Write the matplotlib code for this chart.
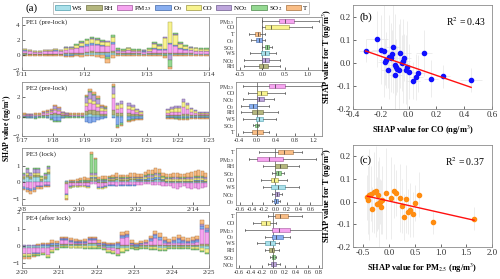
import numpy as np
import matplotlib
matplotlib.use("Agg")
import matplotlib.pyplot as plt
from matplotlib.patches import Patch

plt.rcParams['font.family'] = ['Liberation Serif', 'DejaVu Serif']
plt.rcParams['mathtext.fontset'] = 'stix'

# ---------------- data ----------------
features = ["WS", "RH", "PM25", "O3", "CO", "NO2", "SO2", "T"]
feat_labels = {"WS": "WS", "RH": "RH", "PM25": "PM$_{2.5}$", "O3": "O$_3$",
               "CO": "CO", "NO2": "NO$_2$", "SO2": "SO$_2$", "T": "T"}
feat_colors = {"WS": "#a9e0ea", "RH": "#b4b67e", "PM25": "#f6a4f0", "O3": "#88aef0",
               "CO": "#f8f38e", "NO2": "#bda5dc", "SO2": "#95d992", "T": "#f9bd85"}
feat_edges = {"WS": "#4f9fae", "RH": "#6e6f40", "PM25": "#a2569d", "O3": "#3f66a8",
              "CO": "#9c9640", "NO2": "#6d5a8e", "SO2": "#4d8a4a", "T": "#a8703c"}

# PE1 (pre-lock), 2-hourly from 1/11
pe1 = {
    "WS":   [0.1, 0.05, 0.05, 0.05, 0.05, 0.05, 0.05, 0.05, 0.1, 0.1, 0.1, 0.15,
             0.2, 0.25, 0.2, 0.2, 0.2, 0.2, 0.1, 0.1, 0.1, 0.1, 0.1, 0.1,
             0.1, 0.1, 0.1, 0.1, 0.1, 0.1, 0.1, 0.1, 0.1, 0.1, 0.1, 0.1],
    "RH":   [0.1, 0.1, 0.05, 0.05, 0.1, 0.1, 0.1, 0.1, 0.1, 0.1, 0.15, 0.15,
             0.2, 0.2, 0.2, 0.2, 0.2, 0.3, 0.1, 0.1, 0.1, 0.1, 0.1, 0.05,
             0.1, 0.1, 0.1, 0.1, 0.2, 0.2, 0.1, 0.1, 0.1, 0.05, 0.05, 0.05],
    "PM25": [0.35, 0.3, 0.25, 0.25, 0.3, 0.35, 0.4, 0.35, 0.5, 0.55, 0.6, 0.8,
             0.8, 0.9, 0.9, 0.8, 0.8, 1.0, 0.35, 0.3, 0.4, 0.3, 0.3, 0.25,
             0.3, 0.6, 0.5, 0.5, 1.2, 0.9, 0.6, 0.5, 0.4, 0.35, 0.3, 0.3],
    "O3":   [0.05, 0.05, 0.05, 0.05, 0.05, 0.05, 0.05, 0.05, -0.1, -0.1, 0.1, 0.1,
             0.2, 0.2, 0.2, 0.15, -0.3, 0.2, 0.05, 0.05, 0.1, 0.05, 0.05, 0.05,
             0.05, 0.1, 0.1, 0.1, 0.1, 0.1, 0.1, 0.05, 0.05, 0.05, 0.05, 0.05],
    "CO":   [0.15, 0.1, 0.1, 0.1, 0.1, 0.1, 0.15, 0.1, 0.2, 0.2, 0.3, 0.4,
             0.5, 0.6, 0.5, 0.4, 0.5, 0.6, 0.15, 0.1, 0.15, 0.1, 0.1, 0.1,
             0.2, 0.6, 0.4, 1.4, 2.8, 1.3, 0.6, 0.4, 0.3, 0.3, 0.25, 0.25],
    "NO2":  [0.05, 0.05, 0.05, 0.05, 0.05, 0.05, 0.05, 0.05, 0.1, 0.1, 0.1, 0.1,
             0.1, 0.1, 0.1, 0.1, 0.1, 0.1, 0.05, 0.05, 0.05, 0.05, 0.05, 0.05,
             0.05, 0.1, 0.1, 0.2, -0.7, 0.2, 0.1, 0.05, 0.05, 0.05, 0.05, 0.05],
    "SO2":  [-0.05, -0.05, -0.05, -0.05, -0.05, -0.05, -0.05, -0.05, 0.05, 0.05, 0.05, 0.1,
             0.1, 0.1, 0.1, 0.1, -0.2, 0.2, 0.05, 0.05, 0.05, 0.05, 0.05, 0.05,
             0.05, 0.1, 0.1, -0.2, -0.9, 0.1, 0.1, 0.05, 0.05, 0.05, 0.05, 0.05],
    "T":    [-0.15, -0.1, -0.1, -0.1, -0.1, -0.15, -0.15, -0.15, -0.2, -0.2, -0.2, -0.25,
             -0.2, -0.2, -0.3, -0.4, -0.6, -0.4, -0.15, -0.15, -0.15, -0.1, -0.1, -0.1,
             -0.1, -0.15, -0.2, -0.2, -0.3, -0.2, -0.15, -0.1, -0.1, -0.1, -0.1, -0.1],
}
pe1_missing = []

# PE2 (pre-lock), 3-hourly from 1/17
pe2 = {
    "WS":   [.05, .05, .05, .05, .05, .1, .1, .15, .2, .15, .05, .05, .05, .05, .05, .05,
             .2, .25, .2, .15, .1, .1, 0, .2, .1, .1, 0, .1, .1, .1, .05, 0,
             0, 0, 0, 0, 0, .05, .05, .05, .05, .1, .1, .05, .05, .05, .05, .05],
    "RH":   [.05, .05, .05, .05, .05, .1, .1, .1, .15, .15, .1, .1, .05, .05, .05, .05,
             .4, .5, .5, .4, .2, .2, 0, .5, .3, .3, 0, .3, .2, .15, .1, 0,
             0, 0, 0, 0, 0, .1, .1, .1, .1, .2, .2, .15, .1, .1, .1, .1],
    "PM25": [.1, .05, .05, .1, .1, .15, .2, .25, .35, .3, .15, .1, .1, .1, .1, .1,
             .5, .7, .6, .5, .3, .25, 0, 1.2, .4, .5, 0, .4, .4, .25, .15, 0,
             0, 0, 0, 0, 0, .2, .3, .3, .3, .7, .5, .3, .2, .15, .15, .15],
    "O3":   [-.05, -.1, -.1, -.15, -.05, -.05, -.1, -.25, -.4, -.4, -.1, -.05, -.05, -.05, -.05, -.05,
             -.5, -.6, -.5, -.35, -.2, -.1, 0, -.15, -.9, -.7, 0, -.3, -.25, -.2, -.2, 0,
             0, 0, 0, 0, 0, -.1, -.1, -.15, -.15, -.15, -.15, -.1, -.1, -.1, -.1, -.1],
    "CO":   [.05, .05, .05, .05, .05, .05, .1, .1, .15, .1, .05, .05, .05, .05, .05, .05,
             .3, .4, .3, .3, .3, .25, 0, .5, .4, .4, 0, .3, .3, .2, .15, 0,
             0, 0, 0, 0, 0, .3, .35, .5, .5, .5, .4, .3, .2, .1, .1, .1],
    "NO2":  [.05, .05, .05, .05, .05, .1, .1, .15, .3, .25, .1, .05, .05, .05, .05, .05,
             .6, .75, .7, .5, .2, .15, 0, .7, .25, .3, 0, .3, .25, .15, .1, 0,
             0, 0, 0, 0, 0, .15, .2, .2, .2, .3, .25, .15, .1, .05, .05, .05],
    "SO2":  [-.05, -.05, -.05, -.05, -.05, -.05, -.05, -.05, -.1, -.1, -.05, -.05, -.05, -.05, -.05, -.05,
             .1, .1, .1, .1, .05, .05, 0, .1, -.2, -.2, 0, -.1, -.1, -.05, -.05, 0,
             0, 0, 0, 0, 0, -.05, -.05, -.05, -.05, -.05, -.05, -.05, -.05, -.05, -.05, -.05],
    "T":    [.05, .05, .05, .05, .05, .05, .05, .05, .05, .05, .05, .05, .05, .05, .05, .05,
             .2, .2, .2, .15, .1, .1, 0, .2, -.1, -.1, 0, -.1, -.05, -.05, -.05, 0,
             0, 0, 0, 0, 0, -.05, -.05, -.05, -.1, -.1, -.1, -.05, -.05, -.05, -.05, -.05],
}
pe2_missing = [22, 26, 31, 32, 33, 34, 35, 36]

# PE3 (lock), 3-hourly from 2/8
pe3 = {
    "WS":   [.2, .3, .2, .3, .3, .1, .2, .5, 0, 0, 0, 0, .05, .05, .05, .05,
             .05, .05, .05, .05, .05, .1, .1, .1, .1, .1, .15, .1, .1, .1, .15, .15,
             .1, .1, .1, .1, .1, .15, .15, .1, -.05, -.05, -.05, -.05, -.05, -.05, -.05, -.05,
             -.05, -.05, -.05, -.05],
    "RH":   [.1, .15, .1, .15, .15, .1, .1, .15, 0, 0, 0, 0, -.1, -.05, -.05, -.05,
             -.05, -.05, -.05, .2, .2, -.05, -.05, -.05, .05, .05, .05, .05, .05, .05, .05, .05,
             .05, .05, .05, .05, .05, .05, .05, .05, .05, .05, .05, .05, .05, .05, .05, .05,
             .05, .05, .05, .05],
    "PM25": [-.3, -.35, -.4, -.35, -.2, -.2, -.15, -.15, 0, 0, 0, 0, -.6, -.2, -.15, -.15,
             -.15, -.15, -.2, -.1, -.1, -.25, -.25, -.2, -.15, -.15, -.2, -.15, -.15, -.15, -.15, -.15,
             -.15, -.15, -.1, -.1, -.15, -.15, -.15, -.2, -.15, -.2, -.3, -.35, -.25, -.15, -.3, -.35,
             -.3, -.35, -.3, -.25],
    "O3":   [-.1, -.1, -.15, -.1, -.1, -.1, -.05, -.05, 0, 0, 0, 0, -.1, -.03, -.03, -.03,
             -.05, -.05, -.05, .1, .1, -.05, -.05, -.05, -.05, -.05, -.05, -.05, -.05, -.05, -.05, -.05,
             .05, .05, .05, .1, .1, .1, .1, .05, .05, .05, .05, .05, .05, .05, .05, .05,
             .1, .1, .1, .05],
    "CO":   [.1, .15, .1, .15, .15, .1, .1, .15, 0, 0, 0, 0, -.2, -.05, -.05, -.05,
             -.05, -.05, -.05, .1, .1, -.05, -.05, -.05, .05, .05, .05, .05, .05, .05, .05, .05,
             .05, .05, .1, .1, .1, .15, .1, .1, .1, .1, .1, .1, .1, .1, .1, .1,
             .1, .1, .1, .1],
    "NO2":  [.1, .2, .15, .2, .2, .05, .1, .15, 0, 0, 0, 0, .05, .05, .05, .05,
             .05, .05, .05, .1, .1, .05, .05, .05, .05, .05, .05, .05, .05, .05, .05, .05,
             .05, .05, .1, .1, .1, .1, .1, .05, .05, .05, .1, .1, .05, .05, .1, .1,
             .1, .1, .1, .1],
    "SO2":  [.05, .05, .05, .05, .05, .05, .05, .05, 0, 0, 0, 0, -.05, -.03, -.03, -.03,
             .05, .05, .05, 1.2, .9, .05, .05, .05, .05, .05, .05, .05, .05, .05, .05, .05,
             .05, .05, .05, .05, .05, .05, .05, .05, .05, .05, .05, .05, .05, .05, .05, .05,
             .05, .05, .05, .05],
    "T":    [-.1, -.15, -.15, -.15, -.1, -.1, -.1, -.1, 0, 0, 0, 0, -.05, .05, .05, .1,
             .1, .15, .1, .1, .05, .15, .2, .2, .1, .15, .2, .15, .15, .15, .2, .2,
             .15, .15, .2, .25, .25, .3, .25, .2, .2, .2, .2, .2, .2, .2, .25, .3,
             .3, .35, .3, .25],
}
pe3_missing = [8, 9, 10, 11]

# PE4 (after lock), 3-hourly from 2/20
pe4 = {
    "WS":   [-.1, -.1, -.1, -.1, -.1, -.1, -.05, -.05, .05, .05, .05, .05, .05, .05, .1, .1,
             -.05, -.05, -.1, -.1, -.15, -.15, -.1, -.05, -.05, -.05, -.05, -.05, -.05, -.1, -.1, -.05,
             -.05, -.05, -.05, -.05, -.05, -.05, -.1, -.2],
    "RH":   [-.05, -.05, -.05, -.05, -.05, -.05, .05, .05, .05, .05, .05, .05, .05, .05, .05, .05,
             .05, .05, -.05, -.05, -.05, .05, .05, .05, -.05, .05, .05, .05, .05, .05, .05, .05,
             .05, .05, .05, .05, .05, .05, .1, .1],
    "PM25": [-.3, -.3, -.25, -.25, -.25, -.4, -.2, -.1, .25, .25, .15, .1, .1, .1, .2, .2,
             .05, -.05, -.1, -.15, -.25, .4, .45, .05, -.05, .05, .1, .25, .4, .3, .15, .1,
             .1, .15, .1, .1, .15, .2, .9, .7],
    "O3":   [-.05, -.05, -.05, -.05, .05, .05, .1, .1, .05, .05, .05, .05, .05, .05, .05, .05,
             .05, .05, .05, .05, .1, .15, .15, .05, .05, .05, .05, .1, .2, .15, .1, .05,
             .15, .2, .15, .1, .1, .1, .2, .15],
    "CO":   [-.1, -.1, -.1, -.1, -.1, -.1, -.1, -.05, -.05, -.05, -.1, -.1, -.1, -.15, -.15, -.15,
             -.1, -.1, -.1, -.1, -.1, -.2, -.15, -.1, -.05, -.1, -.1, -.15, -.15, -.15, -.15, -.1,
             -.1, -.1, -.1, -.1, -.15, -.15, -.2, -.2],
    "NO2":  [.05, .05, .05, .05, .05, .05, .05, .05, .05, .05, .05, .05, .05, .05, .05, .05,
             .05, .05, .05, .05, .05, .05, .05, .05, .05, .05, .05, .05, .05, .05, .05, .05,
             .05, .05, .05, .05, .05, .05, .1, .1],
    "SO2":  [-.05, -.05, -.05, -.05, -.05, -.05, -.05, -.05, -.05, -.05, -.05, -.05, -.05, -.05, -.05, -.05,
             -.05, -.05, -.05, -.05, -.05, -.05, -.05, -.05, -.05, -.05, -.05, -.05, -.05, -.05, -.05, -.05,
             -.05, -.05, -.05, -.05, -.05, -.05, -.05, -.05],
    "T":    [-.1, -.1, -.05, .05, .1, .1, .15, .1, .1, .1, .1, .1, .05, .1, .1, .1,
             .15, .1, .05, .05, .1, .2, .2, .15, .1, .1, .1, .15, .2, .2, .15, .15,
             .2, .2, .2, .15, .2, .2, .2, .2],
}
pe4_missing = []

ts_titles = ["PE1 (pre-lock)", "PE2 (pre-lock)", "PE3 (lock)", "PE4 (after lock)"]
ts_step = [1 / 12, 1 / 8, 1 / 8, 1 / 8]
ts_xlim = [3, 6, 6.55, 5]
ts_xticks = [[0, 1, 2, 3], [0, 1, 2, 3, 4, 5, 6], [0, 2, 4, 6], [0, 1, 2, 3, 4, 5]]
ts_xticklabels = [["1/11", "1/12", "1/13", "1/14"],
                  ["1/17", "1/18", "1/19", "1/20", "1/21", "1/22", "1/23"],
                  ["2/8", "2/10", "2/12", "2/14"],
                  ["2/20", "2/21", "2/22", "2/23", "2/24", "2/25"]]
ts_ylim = [(-2, 5), (-2, 3.6), (-1.4, 2.1), (-1.3, 2)]
ts_yticks = [[-2, 0, 2, 4], [-2, 0, 2], [-1, 0, 1], [-1, 0, 1, 2]]

# box plots: q1, median, q3, whisker low, whisker high (top to bottom)
bp1_order = ["PM25", "CO", "T", "O3", "SO2", "WS", "NO2", "RH"]
bp1_q1 = [0.36, 0.06, -0.17, -0.13, 0.06, -0.02, 0.0, -0.07]
bp1_med = [0.5, 0.2, -0.1, -0.07, 0.1, 0.05, 0.05, 0.02]
bp1_q3 = [0.7, 0.6, -0.05, 0.0, 0.15, 0.14, 0.15, 0.12]
bp1_lo = [0.0, 0.0, -0.3, -0.25, 0.0, -0.28, -0.4, -0.4]
bp1_hi = [1.26, 1.1, 0.05, 0.05, 0.22, 0.3, 0.4, 0.4]

bp2_order = ["PM25", "CO", "NO2", "O3", "RH", "WS", "SO2", "T"]
bp2_q1 = [0.25, 0.0, 0.0, -0.17, -0.1, -0.03, -0.04, -0.1]
bp2_med = [0.38, 0.08, 0.05, -0.08, 0.0, 0.04, -0.01, 0.0]
bp2_q3 = [0.6, 0.22, 0.15, 0.0, 0.12, 0.12, 0.02, 0.12]
bp2_lo = [-0.3, -0.2, -0.3, -0.35, -0.35, -0.3, -0.08, -0.3]
bp2_hi = [1.35, 0.6, 0.35, 0.25, 0.45, 0.4, 0.05, 0.25]

bp3_order = ["T", "PM25", "RH", "SO2", "CO", "WS", "NO2", "O3"]
bp3_q1 = [0.05, -0.31, 0.0, 0.02, -0.08, -0.07, 0.0, -0.02]
bp3_med = [0.15, -0.1, 0.08, 0.05, -0.02, 0.05, 0.03, 0.01]
bp3_q3 = [0.3, 0.14, 0.2, 0.1, 0.05, 0.16, 0.07, 0.05]
bp3_lo = [-0.28, -0.45, -0.2, -0.05, -0.25, -0.2, -0.05, -0.05]
bp3_hi = [0.45, 0.7, 0.4, 0.15, 0.2, 0.4, 0.12, 0.08]

bp4_order = ["T", "CO", "PM25", "O3", "WS", "RH", "SO2", "NO2"]
bp4_q1 = [0.03, -0.22, -0.02, -0.02, -0.14, -0.08, -0.02, -0.04]
bp4_med = [0.12, -0.12, 0.1, 0.05, -0.05, -0.03, 0.0, 0.0]
bp4_q3 = [0.25, -0.05, 0.3, 0.17, 0.03, 0.01, 0.03, 0.04]
bp4_lo = [-0.1, -0.35, -0.5, -0.15, -0.28, -0.15, -0.05, -0.1]
bp4_hi = [0.5, 0.05, 0.85, 0.3, 0.1, 0.1, 0.05, 0.12]

bp_xlim = [(-0.58, 1.32), (-0.45, 1.38), (-0.67, 0.8), (-0.65, 0.85)]
bp_xticks = [[-0.5, 0.0, 0.5, 1.0], [-0.4, 0.0, 0.4, 0.8, 1.2],
             [-0.6, -0.4, -0.2, 0.0, 0.2, 0.4, 0.6], [-0.6, -0.4, -0.2, 0.0, 0.2, 0.4, 0.6, 0.8]]

# scatter (b): SHAP CO vs SHAP T
b_x = [-0.31, -0.23, -0.2, -0.17, -0.18, -0.16, -0.15, -0.14, -0.13, -0.12, -0.11, -0.1,
       -0.1, -0.09, -0.08, -0.07, -0.06, -0.05, -0.04, -0.03, -0.02, -0.01, 0.0, 0.03,
       0.05, 0.07, 0.11, 0.16, 0.25, 0.45]
b_y = [0.052, 0.103, 0.057, 0.005, 0.052, 0.012, -0.03, 0.025, 0.022, 0.04, 0.07, -0.052,
       -0.01, -0.018, -0.028, -0.03, 0.041, 0.0, 0.008, 0.023, -0.03, -0.02, -0.038, -0.077,
       -0.062, -0.046, 0.042, -0.068, -0.058, -0.074]
b_yerr = [0.05, 0.12, 0.15, 0.1, 0.2, 0.12, 0.08, 0.18, 0.15, 0.1, 0.2, 0.15,
          0.22, 0.12, 0.1, 0.2, 0.15, 0.12, 0.18, 0.1, 0.15, 0.2, 0.12, 0.08,
          0.1, 0.08, 0.1, 0.08, 0.05, 0.05]
b_xerr = [0.05, 0.08, 0.06, 0.05, 0.1, 0.05, 0.05, 0.06, 0.05, 0.08, 0.05, 0.05,
          0.06, 0.05, 0.05, 0.05, 0.08, 0.05, 0.05, 0.05, 0.05, 0.05, 0.06, 0.05,
          0.05, 0.05, 0.06, 0.05, 0.05, 0.08]

# scatter (c): SHAP PM2.5 vs SHAP T
c_x = [-0.42, -0.4, -0.38, -0.35, -0.33, -0.3, -0.26, -0.24, -0.22, -0.2, -0.17, -0.15,
       -0.13, -0.05, 0.03, 0.1, 0.14, 0.22, 0.26, 0.3, 0.33, 0.37, 0.4, 0.46,
       0.51, 0.59, 0.85, 1.65]
c_y = [0.018, 0.008, 0.03, 0.035, -0.035, 0.04, 0.045, -0.012, 0.028, -0.005, 0.0, -0.025,
       0.005, 0.036, 0.016, 0.046, 0.038, 0.015, -0.02, -0.068, 0.01, -0.045, -0.038, -0.057,
       -0.005, 0.03, -0.092, -0.075]
c_yerr = [0.1, 0.15, 0.2, 0.12, 0.1, 0.18, 0.2, 0.12, 0.15, 0.2, 0.1, 0.12,
          0.15, 0.2, 0.18, 0.12, 0.1, 0.15, 0.12, 0.1, 0.15, 0.1, 0.12, 0.1,
          0.08, 0.1, 0.05, 0.05]

# ---------------- figure ----------------
fig = plt.figure(figsize=(5.0, 2.79), dpi=100)

ts_rows = [(0.749, 0.190), (0.5125, 0.1935), (0.265, 0.204), (0.0394, 0.2007)]
ts_data = [pe1, pe2, pe3, pe4]
ts_miss = [pe1_missing, pe2_missing, pe3_missing, pe4_missing]
spine_col = "#8c8c8c"


def style_axes(ax, fs):
    for s in ax.spines.values():
        s.set_color(spine_col)
        s.set_linewidth(0.6)
    ax.tick_params(direction="in", length=2, width=0.5, labelsize=fs,
                   colors="#333333", pad=1.5)


for k in range(4):
    bottom, height = ts_rows[k]
    ax = fig.add_axes([0.044, bottom, 0.374, height])
    data = ts_data[k]
    n = len(data["WS"])
    step = ts_step[k]
    x = (np.arange(n) + 0.5) * step
    keep = np.ones(n, bool)
    keep[ts_miss[k]] = False
    pos = np.zeros(n)
    neg = np.zeros(n)
    for f in features:
        v = np.array(data[f], float)
        base = np.where(v >= 0, pos, neg)
        ax.bar(x[keep], v[keep], width=step * 0.88, bottom=base[keep],
               color=feat_colors[f], edgecolor=feat_edges[f], linewidth=0.3)
        pos += np.where(v >= 0, v, 0)
        neg += np.where(v < 0, v, 0)
    ax.set_xlim(0, ts_xlim[k])
    ax.set_ylim(*ts_ylim[k])
    ax.set_xticks(ts_xticks[k])
    ax.set_xticklabels(ts_xticklabels[k])
    ax.set_yticks(ts_yticks[k])
    style_axes(ax, 5)
    ax.text(0.02, 0.95, ts_titles[k], transform=ax.transAxes, fontsize=5,
            va="top", ha="left", color="#222222")

# box plots
bp_sets = [(bp1_order, bp1_q1, bp1_med, bp1_q3, bp1_lo, bp1_hi),
           (bp2_order, bp2_q1, bp2_med, bp2_q3, bp2_lo, bp2_hi),
           (bp3_order, bp3_q1, bp3_med, bp3_q3, bp3_lo, bp3_hi),
           (bp4_order, bp4_q1, bp4_med, bp4_q3, bp4_lo, bp4_hi)]
for k in range(4):
    bottom, height = ts_rows[k]
    ax = fig.add_axes([0.472, bottom, 0.172, height])
    order, q1, med, q3, lo, hi = bp_sets[k]
    stats = []
    for i in range(len(order)):
        stats.append(dict(label=feat_labels[order[i]], q1=q1[i], med=med[i], q3=q3[i],
                          whislo=lo[i], whishi=hi[i], fliers=[]))
    positions = np.arange(len(order), 0, -1)
    ax.axvline(0, color="#555555", lw=0.5, zorder=0)
    bp = ax.bxp(stats, positions=positions, orientation="horizontal", widths=0.6,
                patch_artist=True, showfliers=False,
                boxprops=dict(linewidth=0.4),
                whiskerprops=dict(color="#555555", linewidth=0.5),
                capprops=dict(color="#555555", linewidth=0.5),
                medianprops=dict(color="#333333", linewidth=0.5))
    for patch, f in zip(bp["boxes"], order):
        patch.set_facecolor(feat_colors[f])
        patch.set_edgecolor(feat_edges[f])
    ax.set_xlim(*bp_xlim[k])
    ax.set_ylim(0.4, len(order) + 0.6)
    ax.set_xticks(bp_xticks[k])
    ax.set_xticklabels(["%.1f" % t for t in bp_xticks[k]])
    style_axes(ax, 4.6)
    ax.tick_params(axis="y", length=0, pad=1, labelsize=4.2)

# scatter (b)
axb = fig.add_axes([0.706, 0.609, 0.278, 0.373])
axb.errorbar(b_x, b_y, yerr=b_yerr, xerr=b_xerr, fmt="none", ecolor="#e6e6e6",
             elinewidth=0.5, zorder=1)
axb.scatter(b_x, b_y, s=9, color="#1010ff", zorder=3)
pb = np.polyfit(b_x, b_y, 1)
xx = np.array([min(b_x), max(b_x)])
axb.plot(xx, np.polyval(pb, xx), color="#ff1010", lw=1, zorder=4)
axb.set_xlim(-0.4, 0.6)
axb.set_ylim(-0.2, 0.25)
axb.set_xticks([-0.4, -0.2, 0.0, 0.2, 0.4, 0.6])
axb.set_xticklabels(["-0.4", "-0.2", "0.0", "0.2", "0.4", "0.6"])
axb.set_yticks([-0.2, -0.1, 0.0, 0.1, 0.2])
axb.set_yticklabels(["-0.2", "-0.1", "0.0", "0.1", "0.2"])
style_axes(axb, 6.5)
axb.set_xlabel("SHAP value for CO (ng/m$^3$)", fontsize=6, fontweight="bold", labelpad=3)
axb.set_ylabel("SHAP value for T (ng/m$^3$)", fontsize=6, fontweight="bold", labelpad=2)
axb.text(0.05, 0.93, "(b)", transform=axb.transAxes, fontsize=8, va="top")
axb.text(0.95, 0.9, "R$^2$ = 0.43", transform=axb.transAxes, fontsize=7, va="top", ha="right")

# scatter (c)
axc = fig.add_axes([0.706, 0.115, 0.278, 0.366])
axc.errorbar(c_x, c_y, yerr=c_yerr, fmt="none", ecolor="#e6e6e6", elinewidth=0.5, zorder=1)
axc.scatter(c_x, c_y, s=9, color="#ff8c10", zorder=3)
pc = np.polyfit(c_x, c_y, 1)
xx = np.array([min(c_x), max(c_x)])
axc.plot(xx, np.polyval(pc, xx), color="#ff1010", lw=1, zorder=4)
axc.set_xlim(-0.7, 2.0)
axc.set_ylim(-0.2, 0.25)
axc.set_xticks([-0.5, 0.0, 0.5, 1.0, 1.5, 2.0])
axc.set_xticklabels(["-0.5", "0.0", "0.5", "1.0", "1.5", "2.0"])
axc.set_yticks([-0.2, -0.1, 0.0, 0.1, 0.2])
axc.set_yticklabels(["-0.2", "-0.1", "0.0", "0.1", "0.2"])
style_axes(axc, 6.5)
axc.set_xlabel("SHAP value for PM$_{2.5}$ (ng/m$^3$)", fontsize=6, fontweight="bold", labelpad=3)
axc.set_ylabel("SHAP value for T (ng/m$^3$)", fontsize=6, fontweight="bold", labelpad=2)
axc.text(0.05, 0.9, "(c)", transform=axc.transAxes, fontsize=8, va="top")
axc.text(0.95, 0.9, "R$^2$ = 0.37", transform=axc.transAxes, fontsize=7, va="top", ha="right")

# legend and shared labels
handles = [Patch(facecolor=feat_colors[f], edgecolor=feat_edges[f], linewidth=0.5,
                 label=feat_labels[f]) for f in features]
leg = fig.legend(handles=handles, loc="upper center", bbox_to_anchor=(0.362, 1.005),
                 ncol=8, fontsize=5, frameon=True, handlelength=2.2, handleheight=0.9,
                 columnspacing=0.5, handletextpad=0.3, borderpad=0.25)
leg.get_frame().set_edgecolor("#999999")
leg.get_frame().set_linewidth(0.5)
leg.get_frame().set_boxstyle("square", pad=0)

fig.text(0.05, 0.97, "(a)", fontsize=8, ha="left", va="center")
fig.text(0.014, 0.54, "SHAP value (ng/m$^3$)", rotation=90, fontsize=5.5,
         fontweight="bold", ha="center", va="center")

fig.savefig("out.png", dpi=100)
